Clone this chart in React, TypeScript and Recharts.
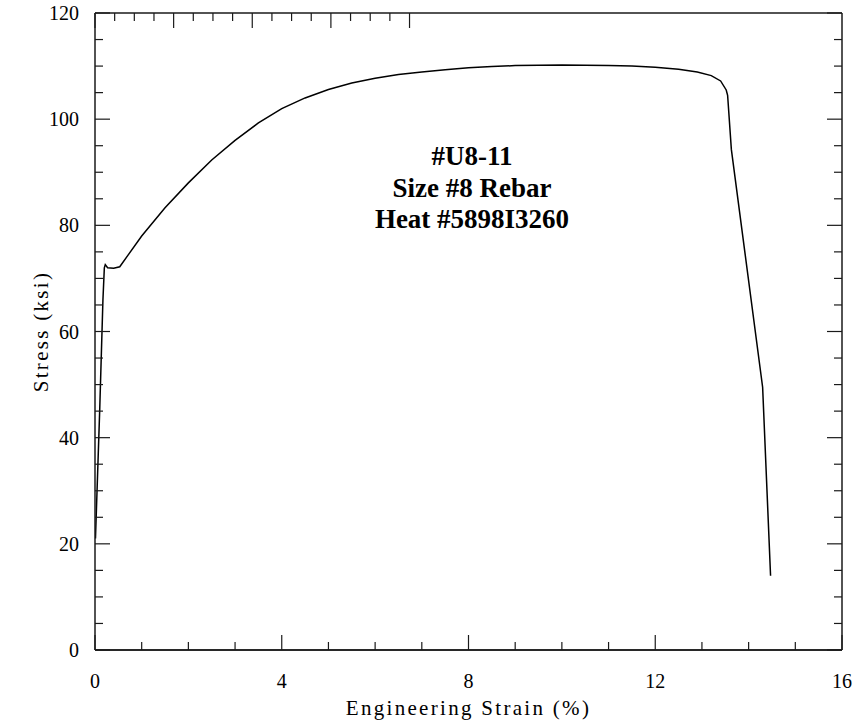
import { LineChart, Line, XAxis, YAxis, ReferenceLine } from 'recharts';

// stress-strain record for specimen #U8-11
const strain = [
  0.01, 0.1, 0.17, 0.2, 0.22, 0.27, 0.4, 0.53, 0.7, 1.0, 1.5, 2.0, 2.5, 3.0, 3.5, 4.0, 4.5, 5.0, 5.5,
  6.0, 6.5, 7.0, 7.5, 8.0, 8.5, 9.0, 10.0, 11.0, 11.5, 12.0, 12.5, 12.9, 13.2, 13.4, 13.52, 13.55,
  13.63, 14.3, 14.47,
];
const stress = [
  21, 45, 66, 72, 72.6, 72.0, 71.9, 72.2, 74.3, 78.0, 83.3, 88.0, 92.3, 96.0, 99.3, 102.0, 104.0,
  105.6, 106.8, 107.7, 108.4, 108.9, 109.3, 109.7, 109.9, 110.1, 110.2, 110.1, 110.0, 109.8, 109.4,
  108.9, 108.2, 107.2, 105.5, 104.5, 94.3, 49.5, 14,
];

const xTicks = [0, 1, 2, 3, 4, 5, 6, 7, 8, 9, 10, 11, 12, 13, 14, 15, 16];
const xLabelTicks = [0, 4, 8, 12, 16];
const yTicks = [0, 5, 10, 15, 20, 25, 30, 35, 40, 45, 50, 55, 60, 65, 70, 75, 80, 85, 90, 95, 100, 105, 110, 115, 120];
const yLabelTicks = [0, 20, 40, 60, 80, 100, 120];

const titleLines = ['#U8-11', 'Size #8 Rebar', 'Heat #5898I3260'];

const data = strain.map((s, i) => ({ strain: s, stress: stress[i] }));

const FONT = '"Liberation Serif", "Times New Roman", serif';
const INK = '#1a1a1a';
const titleFont = { fontSize: 21, fill: '#000', fontFamily: FONT, letterSpacing: 2.3 };
const frame = { stroke: INK, strokeWidth: 1.5 };
const MINOR = 8;
const MAJOR = 15;

type Side = 'bottom' | 'top' | 'left' | 'right';

interface TickProps {
  x?: number;
  y?: number;
  payload?: { value: number };
  side: Side;
  labels?: number[];
}

// inward tick mark, plus the number when this tick carries a label
function FrameTick({ x = 0, y = 0, payload, side, labels }: TickProps) {
  const v = payload ? payload.value : 0;
  const labelled = !!labels && labels.includes(v);
  const major = labels ? labelled : side === 'top' || side === 'bottom' ? v % 4 === 0 : v % 20 === 0;
  const len = major ? MAJOR : MINOR;
  let line = { x1: x, y1: y, x2: x, y2: y };
  if (side === 'bottom') line = { x1: x, y1: y, x2: x, y2: y - len };
  if (side === 'top') line = { x1: x, y1: y, x2: x, y2: y + len };
  if (side === 'left') line = { x1: x, y1: y, x2: x + len, y2: y };
  if (side === 'right') line = { x1: x, y1: y, x2: x - len, y2: y };
  return (
    <g>
      <line {...line} stroke={INK} strokeWidth={1.2} />
      {labelled && side === 'bottom' && (
        <text x={x} y={y + 38} textAnchor="middle" fontSize={20} fontFamily={FONT} fill="#000">
          {v}
        </text>
      )}
      {labelled && side === 'left' && (
        <text x={x - 16} y={y} dy="0.35em" textAnchor="end" fontSize={20} fontFamily={FONT} fill="#000">
          {v}
        </text>
      )}
    </g>
  );
}

export default function App() {
  return (
    <div style={{ position: 'absolute', left: 0, top: 0, width: 858, height: 727, background: '#fff' }}>
      <LineChart width={858} height={727} data={data} margin={{ top: 13, right: 16, bottom: 0, left: 0 }}>
        <XAxis
          xAxisId="main"
          dataKey="strain"
          type="number"
          domain={[0, 16]}
          allowDataOverflow
          ticks={xTicks}
          interval={0}
          height={77}
          tickLine={false}
          tickSize={0}
          tickMargin={0}
          tick={<FrameTick side="bottom" labels={xLabelTicks} />}
          axisLine={frame}
          label={{ value: 'Engineering Strain (%)', position: 'insideBottom', offset: 12, style: titleFont }}
        />
        <XAxis xAxisId="top" orientation="top" type="number" domain={[0, 16]} allowDataOverflow ticks={xTicks} interval={0}
          mirror height={1} tickLine={false} tickSize={0} tickMargin={0} axisLine={frame} tick={<FrameTick side="top" />} />

        <YAxis
          yAxisId="main"
          type="number"
          domain={[0, 120]}
          allowDataOverflow
          ticks={yTicks}
          interval={0}
          width={95}
          tickLine={false}
          tickSize={0}
          tickMargin={0}
          tick={<FrameTick side="left" labels={yLabelTicks} />}
          axisLine={frame}
          label={{ value: 'Stress (ksi)', angle: -90, position: 'center', dx: -7, style: titleFont }}
        />
        <YAxis yAxisId="right" orientation="right" type="number" domain={[0, 120]} allowDataOverflow ticks={yTicks} interval={0}
          mirror width={1} tickLine={false} tickSize={0} tickMargin={0} axisLine={frame} tick={<FrameTick side="right" />} />

        <ReferenceLine xAxisId="main" yAxisId="main" y={0} stroke={INK} strokeWidth={1.5} />

        <Line
          xAxisId="main"
          yAxisId="main"
          dataKey="stress"
          type="linear"
          stroke="#000"
          strokeWidth={1.5}
          dot={false}
          isAnimationActive={false}
        />
      </LineChart>
      <div
        style={{
          position: 'absolute',
          left: 272,
          top: 141,
          width: 400,
          textAlign: 'center',
          fontFamily: FONT,
          fontWeight: 'bold',
          fontSize: 27,
          lineHeight: '31.5px',
          color: '#000',
        }}
      >
        {titleLines.map((t) => (
          <div key={t}>{t}</div>
        ))}
      </div>
    </div>
  );
}
